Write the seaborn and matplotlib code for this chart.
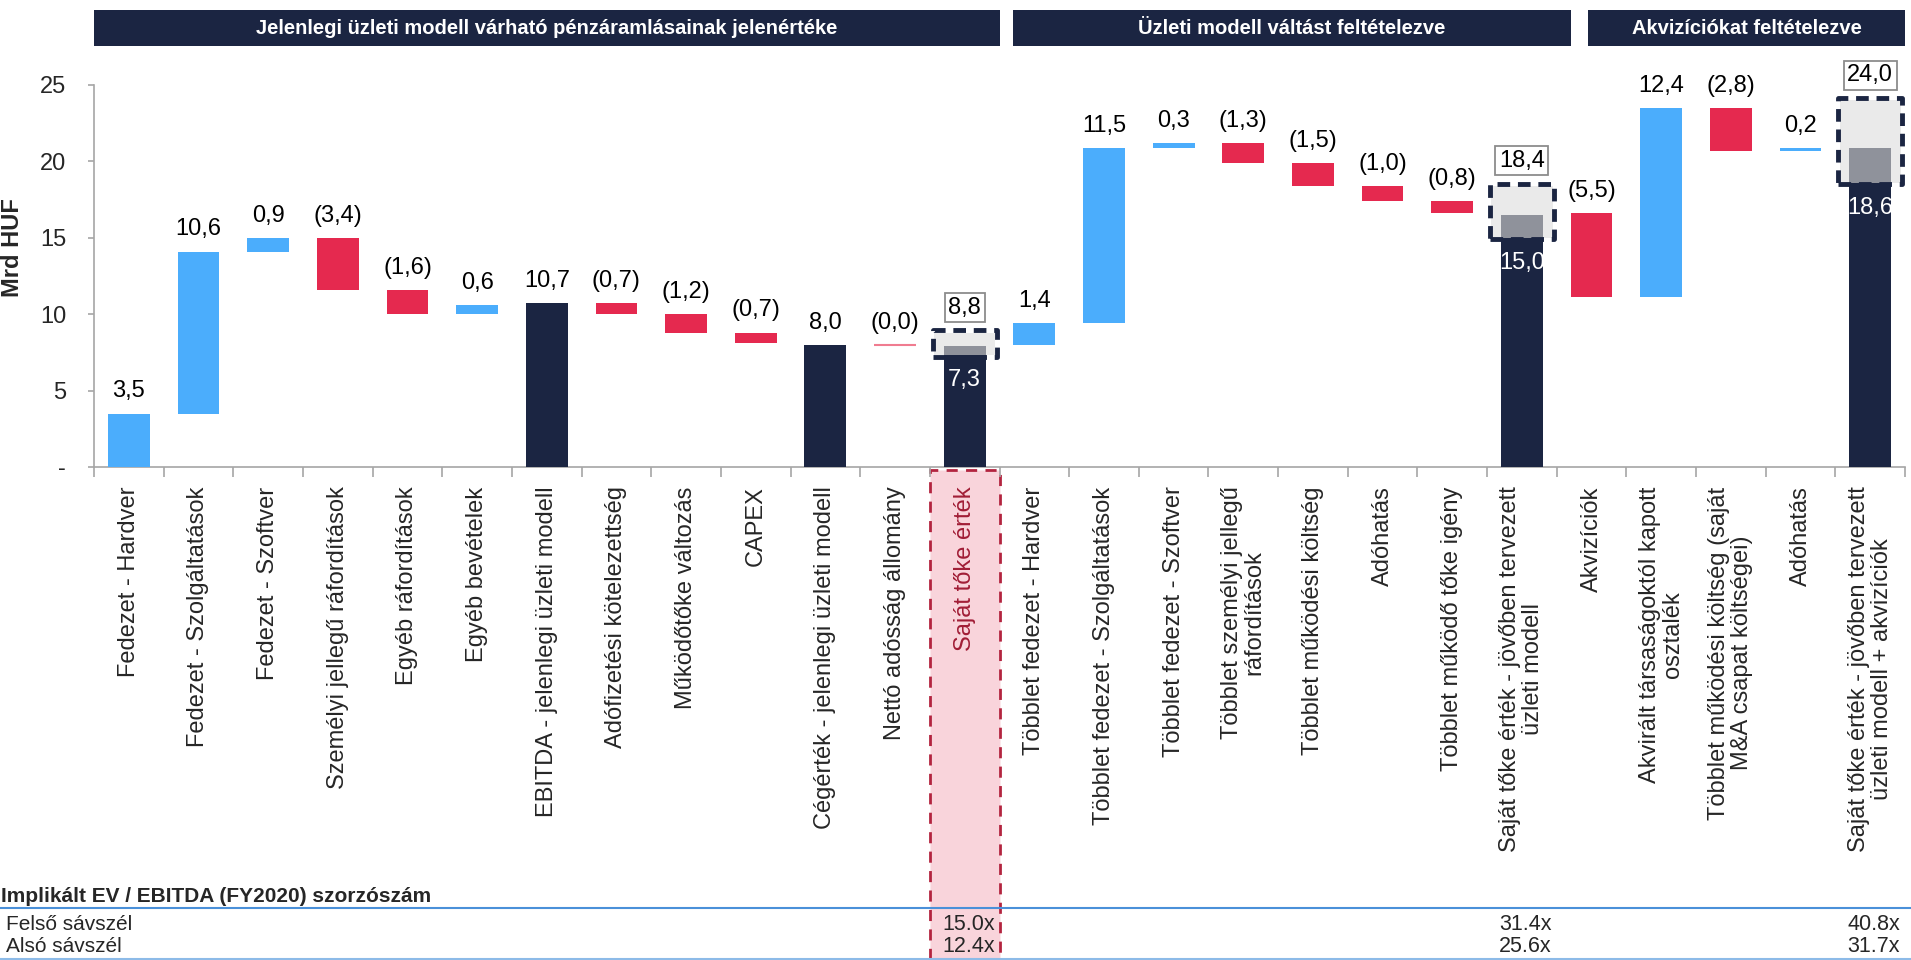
import numpy as np
import pandas as pd
import matplotlib
matplotlib.use("Agg")
import matplotlib.pyplot as plt
import matplotlib.transforms as mtransforms
from matplotlib.patches import Rectangle
from matplotlib.lines import Line2D
import seaborn as sns

categories = [
    "Fedezet - Hardver",
    "Fedezet - Szolgáltatások",
    "Fedezet - Szoftver",
    "Személyi jellegű ráfordítások",
    "Egyéb ráfordítások",
    "Egyéb bevételek",
    "EBITDA - jelenlegi üzleti modell",
    "Adófizetési kötelezettség",
    "Működőtőke változás",
    "CAPEX",
    "Cégérték - jelenlegi üzleti modell",
    "Nettó adósság állomány",
    "Saját tőke érték",
    "Többlet fedezet - Hardver",
    "Többlet fedezet - Szolgáltatások",
    "Többlet fedezet - Szoftver",
    "Többlet személyi jellegű\nráfordítások",
    "Többlet működési költség",
    "Adóhatás",
    "Többlet működő tőke igény",
    "Saját tőke érték - jövőben tervezett\nüzleti modell",
    "Akvizíciók",
    "Akvirált társaságoktól kapott\nosztalék",
    "Többlet működési költség (saját\nM&A csapat költségei)",
    "Adóhatás",
    "Saját tőke érték - jövőben tervezett\nüzleti modell + akvizíciók",
]
values = [3.5, 10.6, 0.9, -3.4, -1.6, 0.6, 10.7, -0.7, -1.2, -0.7, 8.0, -0.0, 7.3,
          1.4, 11.5, 0.3, -1.3, -1.5, -1.0, -0.8, 15.0,
          -5.5, 12.4, -2.8, 0.2, 18.6]
kinds = (["step"] * 6 + ["total"] + ["step"] * 3 + ["total", "step", "equity"]
         + ["step"] * 7 + ["equity"] + ["step"] * 4 + ["equity"])

# equity value ranges (low = bar value, mid = grey band top, high = boxed label)
equity_mid = [7.9, 16.5, 20.9]
equity_high = [8.8, 18.4, 24.0]

sections = ["Jelenlegi üzleti modell várható pénzáramlásainak jelenértéke",
            "Üzleti modell váltást feltételezve",
            "Akvizíciókat feltételezve"]
section_spans = [(-0.5, 12.5), (12.7, 20.7), (20.95, 25.5)]

table_title = "Implikált EV / EBITDA (FY2020) szorzószám"
row_names = ["Felső sávszél", "Alsó sávszél"]
multiple_upper = ["15.0x", "31.4x", "40.8x"]
multiple_lower = ["12.4x", "25.6x", "31.7x"]

BLUE = "#4BADFC"
RED = "#E5294F"
NAVY = "#1B2542"
DGREY = "#8F929B"
LGREY = "#EAEAEA"
AXIS = "#A6A6A6"

sns.set_theme(style="white")
plt.rcParams["font.family"] = ["Liberation Sans", "DejaVu Sans"]


def fmt(v):
    s = f"{abs(v):.1f}".replace(".", ",")
    return f"({s})" if np.signbit(v) else s


# waterfall geometry
bottoms, heights, colors = [], [], []
running = 0.0
for v, k in zip(values, kinds):
    if k == "step":
        start = running
        running += v
        bottoms.append(min(start, running))
        heights.append(abs(v))
        colors.append(RED if np.signbit(v) else BLUE)
    else:
        bottoms.append(0.0)
        heights.append(v)
        colors.append(NAVY)
        if k == "total":
            running = v

df = pd.DataFrame({"pos": range(len(values)), "height": heights})

fig = plt.figure(figsize=(19.11, 9.6), dpi=100)
ax = fig.add_axes([94 / 1911, 1 - 467 / 960, 1811 / 1911, 406 / 960])

sns.barplot(data=df, x="pos", y="height", width=0.6, color=BLUE, saturation=1,
            errorbar=None, linewidth=0, ax=ax, zorder=3)
for patch, b, c in zip(ax.patches, bottoms, colors):
    patch.set_y(b)
    patch.set_facecolor(c)

ax.set_xlim(-0.5, 25.5)
ax.set_ylim(0, 26.57)

# labels above bars
eq_idx = [i for i, k in enumerate(kinds) if k == "equity"]
for i, (v, k) in enumerate(zip(values, kinds)):
    top = bottoms[i] + heights[i]
    if k == "equity":
        continue
    if heights[i] < 0.05:
        ax.hlines(top, i - 0.3, i + 0.3, color="#F07C90", lw=1.5, zorder=3)
    ax.annotate(fmt(v), (i, top), xytext=(0, 8), textcoords="offset points",
                ha="center", va="bottom", fontsize=17, color="black")

for j, i in enumerate(eq_idx):
    low, mid, high = values[i], equity_mid[j], equity_high[j]
    ax.add_patch(Rectangle((i - 0.44, low), 0.88, high - low, fc=LGREY, ec="none", zorder=2))
    ax.add_patch(Rectangle((i - 0.3, low), 0.6, mid - low, fc=DGREY, ec="none", zorder=3))
    ax.add_patch(Rectangle((i - 0.46, low - 0.1), 0.92, high - low + 0.25, fill=False,
                           ec=NAVY, lw=3.5, ls=(0, (2.6, 1.6)), joinstyle="round", zorder=4))
    ax.annotate(fmt(low), (i, low), xytext=(0, -10), textcoords="offset points",
                ha="center", va="top", fontsize=17, color="white", zorder=5)
    ax.annotate(fmt(high), (i, high), xytext=(0, 10), textcoords="offset points",
                ha="center", va="bottom", fontsize=17, color="black", zorder=5,
                bbox=dict(boxstyle="square,pad=0.15", fc="white", ec="#8C8C8C", lw=1.3))

# axes styling
sns.despine(ax=ax)
for s in ["left", "bottom"]:
    ax.spines[s].set_color(AXIS)
    ax.spines[s].set_linewidth(1.2)
ax.spines["left"].set_bounds(0, 25)

ax.set_yticks([0, 5, 10, 15, 20, 25])
ax.set_yticklabels(["-", "5", "10", "15", "20", "25"], fontsize=17)
ax.tick_params(axis="y", length=4, color=AXIS, width=1.2, pad=16, left=True)
ax.set_ylabel("Mrd HUF", fontsize=17, fontweight="bold")
ax.yaxis.set_label_coords(-0.0387, 0.54)

ax.set_xticks(range(len(categories)))
ax.set_xticklabels(categories, rotation=90, fontsize=17, ha="center", va="top",
                   multialignment="center", linespacing=1.05)
ax.set_xticks(np.arange(-0.5, 26, 1), minor=True)
ax.tick_params(axis="x", which="major", length=0, pad=14)
ax.tick_params(axis="x", which="minor", length=7, color=AXIS, width=1.2, bottom=True)
ax.set_xlabel("")
ax.get_xticklabels()[12].set_color("#A11D36")

blend = mtransforms.blended_transform_factory(ax.transData, fig.transFigure)

# section headers
for name, (x0, x1) in zip(sections, section_spans):
    fig.add_artist(Rectangle((x0, 0.952), x1 - x0, 0.0375, transform=blend,
                             fc=NAVY, ec="none"))
    fig.text((x0 + x1) / 2, 0.9705, name, transform=blend, ha="center", va="center",
             color="white", fontsize=14.5, fontweight="bold")

# highlighted column below the axis
ax_bottom = 1 - 467 / 960
fig.add_artist(Rectangle((11.5, 0.0), 1.0, ax_bottom - 0.003, transform=blend,
                         fc="#F9D4DB", ec="#B3243F", ls=(0, (4, 3)), lw=2, zorder=-1))

# multiples table
fig.text(0.0005, 1 - 896 / 960, table_title, ha="left", va="center",
         fontsize=15, fontweight="bold")
fig.add_artist(Line2D([0, 1], [1 - 908 / 960] * 2, transform=fig.transFigure,
                      color="#4A90D9", lw=1.5))
fig.add_artist(Line2D([0, 1], [0.0015] * 2, transform=fig.transFigure,
                      color="#8DBBE8", lw=1.5))
row_y = [1 - 924 / 960, 1 - 947 / 960]
for name, y in zip(row_names, row_y):
    fig.text(0.003, y, name, ha="left", va="center", fontsize=15)
for i, up, lo in zip(eq_idx, multiple_upper, multiple_lower):
    fig.text(i + 0.43, row_y[0], up, transform=blend, ha="right", va="center", fontsize=15.5)
    fig.text(i + 0.43, row_y[1], lo, transform=blend, ha="right", va="center", fontsize=15.5)

fig.savefig("out.png", dpi=100)
